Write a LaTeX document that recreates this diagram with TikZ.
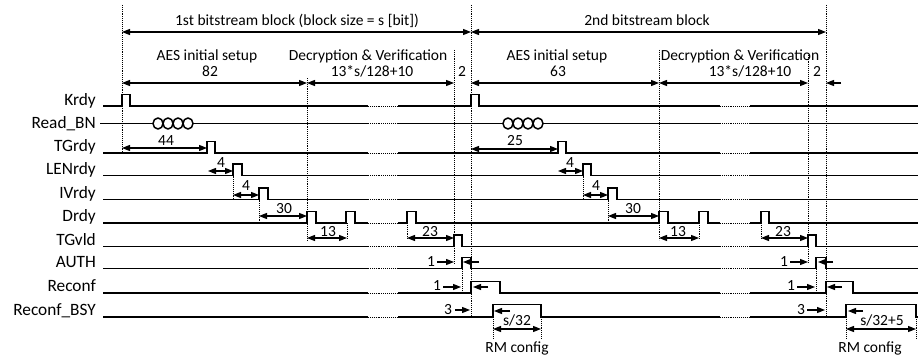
\documentclass[tikz,border=0pt]{standalone}
\usepackage{fontspec}
\setmainfont{Carlito}
\usetikzlibrary{arrows.meta}
\begin{document}
\begin{tikzpicture}[x=1pt,y=-1pt,
  sig/.style={line width=1.5pt, line join=miter},
  gapdot/.style={densely dotted, line width=0.9pt},
  vdot/.style={densely dotted, line width=0.9pt},
  dim/.style={line width=1.2pt, {Triangle[length=8pt,width=6pt]}-{Triangle[length=8pt,width=6pt]}},
  rar/.style={line width=1.2pt, -{Triangle[length=8pt,width=6pt]}},
  lbl/.style={font=\fontsize{17.3}{20}\selectfont, anchor=base east, inner sep=0pt},
  txt/.style={font=\fontsize{15.5}{18}\selectfont, anchor=base, inner sep=0pt}]
\useasboundingbox (0,0) rectangle (918,361);

% ---------- signal labels ----------
\node[lbl] (lKrdy)  at (96,105)   {Krdy};
\node[lbl] (lRead)  at (96,128)   {Read\_BN};
\node[lbl] (lTG)    at (96,151.5) {TGrdy};
\node[lbl] (lLEN)   at (96,174)   {LENrdy};
\node[lbl] (lIV)    at (96,198)   {IVrdy};
\node[lbl] (lD)     at (96,221.5) {Drdy};
\node[lbl] (lTGv)   at (96,245)   {TGvld};
\node[lbl] (lAUTH)  at (96,267)   {AUTH};
\node[lbl] (lRec)   at (96,291.5) {Reconf};
\node[lbl] (lBSY)   at (96,315.5) {Reconf\_BSY};

% ---------- vertical dotted guides ----------
\draw[vdot] (122,5) -- (122,153);
\draw[vdot] (307,78) -- (307,240);
\draw[vdot] (454,50) -- (454,263);
\draw[vdot] (471,5) -- (471,317);
\draw[vdot] (659,50) -- (659,240);
\draw[vdot] (808,53) -- (808,263);
\draw[vdot] (826,5) -- (826,317);
\draw[vdot] (233,175.5) -- (233,199.5);
\draw[vdot] (259,199.5) -- (259,223);
\draw[vdot] (347,223) -- (347,240);
\draw[vdot] (407,223) -- (407,240);
\draw[vdot] (462,257.5) -- (462,293);
\draw[vdot] (493,317) -- (493,338);
\draw[vdot] (541,317) -- (541,338);
\draw[vdot] (583,175.5) -- (583,199.5);
\draw[vdot] (608,199.5) -- (608,223);
\draw[vdot] (699,223) -- (699,240);
\draw[vdot] (761,223) -- (761,240);
\draw[vdot] (816,257.5) -- (816,293);
\draw[vdot] (846,317) -- (846,338);
\draw[vdot] (916,317) -- (916,338);

% ---------- signals ----------
% Krdy
\draw[sig] (103,106) -- (122,106) -- (122,94.5) -- (130,94.5) -- (130,106)
  -- (471,106) -- (471,94.5) -- (479,94.5) -- (479,106) -- (918,106);
% Read_BN
\draw[sig] (100,123.5) -- (153,123.5);
\foreach \c in {158,168,178,188} \draw[sig] (\c,123.5) ellipse [x radius=5, y radius=5.5];
\draw[sig] (193,123.5) -- (503,123.5);
\foreach \c in {508,518,528,538} \draw[sig] (\c,123.5) ellipse [x radius=5, y radius=5.5];
\draw[sig] (543,123.5) -- (918,123.5);
% TGrdy
\draw[sig] (103,153) -- (207,153) -- (207,141.5) -- (215,141.5) -- (215,153)
  -- (558,153) -- (558,141.5) -- (566,141.5) -- (566,153) -- (918,153);
% LENrdy
\draw[sig] (103,175.5) -- (233,175.5) -- (233,164) -- (242,164) -- (242,175.5)
  -- (583,175.5) -- (583,164) -- (591,164) -- (591,175.5) -- (918,175.5);
% IVrdy
\draw[sig] (103,199.5) -- (259,199.5) -- (259,188) -- (268,188) -- (268,199.5)
  -- (608,199.5) -- (608,188) -- (617,188) -- (617,199.5) -- (918,199.5);
% Drdy
\draw[sig] (103,223) -- (307,223) -- (307,211.5) -- (316,211.5) -- (316,223)
  -- (346,223) -- (346,211.5) -- (355,211.5) -- (355,223)
  -- (407,223) -- (407,211.5) -- (416,211.5) -- (416,223)
  -- (659,223) -- (659,211.5) -- (668,211.5) -- (668,223)
  -- (699,223) -- (699,211.5) -- (708,211.5) -- (708,223)
  -- (761,223) -- (761,211.5) -- (769,211.5) -- (769,223) -- (918,223);
% TGvld
\draw[sig] (103,246.5) -- (454,246.5) -- (454,235) -- (462,235) -- (462,246.5)
  -- (808,246.5) -- (808,235) -- (816,235) -- (816,246.5) -- (918,246.5);
% AUTH
\draw[sig] (103,268.5) -- (462,268.5) -- (462,257.5) -- (471,257.5) -- (471,268.5)
  -- (816,268.5) -- (816,257.5) -- (826,257.5) -- (826,268.5) -- (918,268.5);
% Reconf
\draw[sig] (103,293) -- (471,293) -- (471,281.5) -- (500,281.5) -- (500,293)
  -- (826,293) -- (826,281.5) -- (853,281.5) -- (853,293) -- (918,293);
% Reconf_BSY
\draw[sig] (103,317) -- (493,317) -- (493,304.5) -- (541,304.5) -- (541,317)
  -- (846,317) -- (846,304.5) -- (916,304.5) -- (916,317) -- (918,317);

% ---------- skipped-time gaps ----------
\foreach \y in {106,123.5,153,175.5,199.5,223,246.5,268.5,293,317} {
  \fill[white] (368,\y-2.5) rectangle (398,\y+2.5);
  \draw[gapdot] (368,\y) -- (398,\y);
  \fill[white] (720,\y-2.5) rectangle (750,\y+2.5);
  \draw[gapdot] (720,\y) -- (750,\y);
}

% ---------- header ----------
\node[txt] (t1) at (297,26) {1st bitstream block (block size = s [bit])};
\node[txt] (t2) at (647,26) {2nd bitstream block};
\draw[dim] (122,32) -- (471,32);
\draw[dim] (471,32) -- (826,32);

\node[txt] (a1) at (207,60) {AES initial setup};
\node[txt] (a1n) at (210,77) {82};
\node[txt] (d1) at (368,60) {Decryption \& Verification};
\node[txt] (d1n) at (372,77) {13*s/128+10};
\node[txt] (two1) at (462,77) {2};
\draw[dim] (122,83) -- (307,83);
\draw[dim] (307,83) -- (454,83);

\node[txt] (a2) at (557,60) {AES initial setup};
\node[txt] (a2n) at (558,77) {63};
\node[txt] (d2) at (740,60) {Decryption \& Verification};
\node[txt] (d2n) at (750,77) {13*s/128+10};
\node[txt] (two2) at (817,77) {2};
\draw[dim] (471,83) -- (659,83);
\draw[dim] (659,83) -- (808,83);
\draw[rar] (841,83) -- (826,83);

% ---------- interval annotations, block 1 ----------
\node[txt] at (166,145) {44};
\draw[dim] (122,148) -- (207,148);
\node[txt] at (221,167) {4};
\draw[dim] (208,171) -- (233,171);
\node[txt] at (246,190) {4};
\draw[dim] (233,195) -- (259,195);
\node[txt] at (284,213) {30};
\draw[dim] (259,216) -- (307,216);
\node[txt] at (328,236) {13};
\draw[dim] (307,238) -- (347,238);
\node[txt] at (430,236) {23};
\draw[dim] (407,238) -- (454,238);

\node[txt] at (431,266) {1};
\draw[rar] (437,262) -- (454,262);
\draw[rar] (479,262) -- (463,262);
\node[txt] at (437,290.5) {1};
\draw[rar] (443,287) -- (461,287);
\draw[rar] (488,287) -- (473,287);
\node[txt] at (448,314.5) {3};
\draw[rar] (455,310) -- (470,310);
\draw[rar] (510,311) -- (494,311);
\node[txt] at (517,325) {s/32};
\draw[dim] (493,329) -- (541,329);
\node[txt] at (517,352) {RM config};

% ---------- interval annotations, block 2 ----------
\node[txt] at (515,145) {25};
\draw[dim] (471,149) -- (558,149);
\node[txt] at (570,167) {4};
\draw[dim] (558,171) -- (583,171);
\node[txt] at (596,190) {4};
\draw[dim] (583,195) -- (608,195);
\node[txt] at (633,213) {30};
\draw[dim] (608,216) -- (659,216);
\node[txt] at (678,236) {13};
\draw[dim] (659,238) -- (699,238);
\node[txt] at (783,236) {23};
\draw[dim] (761,238) -- (808,238);

\node[txt] at (784,266) {1};
\draw[rar] (790,262) -- (808,262);
\draw[rar] (833,262) -- (818,262);
\node[txt] at (791,290.5) {1};
\draw[rar] (797,287) -- (815,287);
\draw[rar] (842,287) -- (827,287);
\node[txt] at (801,314.5) {3};
\draw[rar] (807,310) -- (825,310);
\draw[rar] (863,311) -- (848,311);
\node[txt] at (882,325) {s/32+5};
\draw[dim] (846,329) -- (916,329);
\node[txt] at (870,352) {RM config};

\end{tikzpicture}
\end{document}
